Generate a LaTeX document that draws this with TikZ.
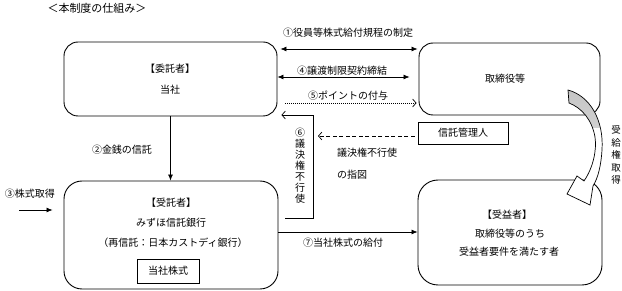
\documentclass[tikz,border=0pt]{standalone}
\usepackage{fontspec}
\newfontfamily\jp{Noto Sans CJK JP}
\usetikzlibrary{arrows.meta,calc}
\begin{document}
\begin{tikzpicture}[x=1pt,y=-1pt,
  rbox/.style={draw, line width=0.9pt, inner sep=0pt},
  txt/.style={font=\jp\fontsize{10}{12}\selectfont, inner sep=0pt},
  vtxt/.style={font=\jp\fontsize{10}{11}\selectfont, inner sep=0pt, align=center},
  arr/.style={line width=0.7pt},
  fhead/.style={-{Latex[length=6pt,width=5pt]}},
  bhead/.style={{Latex[length=6pt,width=5pt]}-{Latex[length=6pt,width=5pt]}},
  ohead/.style={-{Straight Barb[length=3.5pt,width=8pt]}}
]
\useasboundingbox (0,0) rectangle (622,291);

% boxes
\node[rbox, rounded corners=14pt, minimum width=213pt, minimum height=74pt] (itaku) at (170.5,79) {};
\node[rbox, rounded corners=14pt, minimum width=181pt, minimum height=72pt] (tori) at (509.5,79) {};
\node[rbox, minimum width=90pt, minimum height=22pt] (kanri) at (463,133) {};
\node[rbox, rounded corners=18pt, minimum width=214pt, minimum height=108pt] (jutaku) at (171,235) {};
\node[rbox, minimum width=62pt, minimum height=24pt] (kabu) at (168,271) {};
\node[rbox, rounded corners=20pt, minimum width=184pt, minimum height=105pt] (jueki) at (510,232.5) {};

% texts
\node[txt, font=\jp\fontsize{11}{13}\selectfont] (title) at (97,8) {＜本制度の仕組み＞};
\node[txt] (t1) at (170,69) {【委託者】};
\node[txt] (t2) at (170,90) {当社};
\node[txt] (t3) at (505,79) {取締役等};
\node[txt] (t4) at (463,133) {信託管理人};
\node[txt] (t5) at (171,203) {【受託者】};
\node[txt] (t6) at (171,223) {みずほ信託銀行};
\node[txt] (t7) at (173,243) {（再信託：日本カストディ銀行）};
\node[txt] (t8) at (168,271) {当社株式};
\node[txt] (t9) at (507,215) {【受益者】};
\node[txt] (t10) at (510,234) {取締役等のうち};
\node[txt] (t11) at (509,252) {受益者要件を満たす者};

% labels
\node[txt] (l1) at (348,33) {①役員等株式給付規程の制定};
\node[txt] (l4) at (342,71) {④譲渡制限契約締結};
\node[txt] (l5) at (348,96) {⑤ポイントの付与};
\node[txt] (l2) at (122,150) {②金銭の信託};
\node[txt] (l3) at (30,194) {③株式取得};
\node[txt] (l7) at (343,243) {⑦当社株式の給付};
\node[vtxt] (l6) at (300,166) {⑥\\議\\決\\権\\不\\行\\使};
\node[txt, anchor=west] (ls1) at (337,153) {議決権不行使};
\node[txt, anchor=west] (ls2) at (337,175) {の指図};
\node[vtxt, font=\jp\fontsize{9.5}{12.6}\selectfont] (lr) at (616,155) {受\\給\\権\\取\\得};

% helper coordinates
\coordinate (y49) at (0,49);
\coordinate (y77) at (0,77);
\coordinate (y103) at (0,103);
\coordinate (y218) at (0,218);
\coordinate (c6) at (313,115);
\coordinate (y136) at (0,136);
\coordinate (d1) at (318,136);
\coordinate (s3) at (19,210);
\coordinate (y232) at (0,232);

% connectors
\draw[arr, bhead, shorten <=3pt, shorten >=1pt] (itaku.east |- y49) -- (tori.west |- y49);
\draw[arr, bhead, shorten >=9pt] (itaku.east |- y77) -- (tori.west |- y77);
\draw[arr, ohead, dash pattern=on 1pt off 1pt, shorten <=8pt, shorten >=2pt] (itaku.east |- y103) -- (tori.west |- y103);
\draw[arr, ohead, shorten <=7pt, shorten >=4pt] (jutaku.east |- y218) -| (c6) -- (itaku.east |- c6);
\draw[arr, ohead, dash pattern=on 4pt off 2.5pt, shorten <=3pt] (kanri.west |- y136) -- (d1);
\draw[arr, fhead] (itaku.south) -- (itaku.south |- jutaku.north);
\draw[arr, fhead, shorten >=11pt] (s3) -- (jutaku.west |- s3);
\draw[arr, fhead] (jutaku.east |- y232) -- (jueki.west |- y232);

% curved block arrow
\def\curvedarrow{(568,90) .. controls (590,96) and (604,120) .. (602,150)
  .. controls (601,166) and (598,178) .. (593,186)
  -- (590,205) -- (567,194) -- (577,176) -- (584,181)
  .. controls (593,168) and (597,150) .. (595,137)
  .. controls (592,120) and (582,108) .. (569,103) -- cycle}
\fill[white] \curvedarrow;
\begin{scope}
  \clip (560,85) rectangle (610,128);
  \shade[top color=gray!45, bottom color=gray!20] \curvedarrow;
\end{scope}
\draw[line width=0.7pt, line join=miter] \curvedarrow;
\end{tikzpicture}
\end{document}
